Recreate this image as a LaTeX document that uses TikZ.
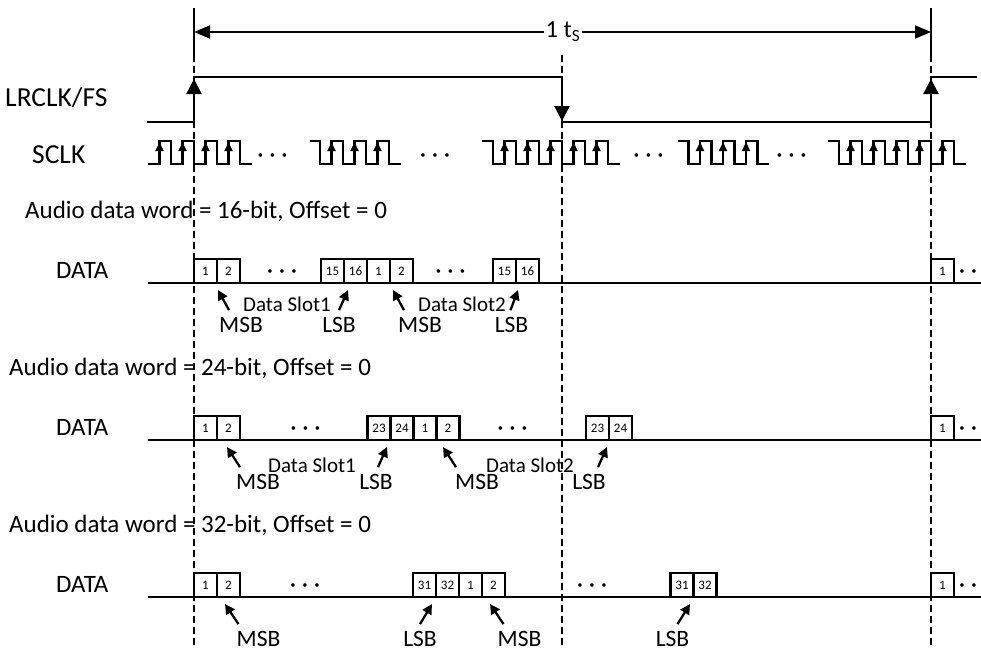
\documentclass[tikz,border=0pt]{standalone}
\usepackage{fontspec}
\setmainfont{Carlito}
\usetikzlibrary{arrows.meta}

\tikzset{
  lbl/.style={font=\fontsize{25}{30}\selectfont, inner sep=1pt},
  siglbl/.style={font=\fontsize{27.5}{32}\selectfont, inner sep=1pt, anchor=west},
  ptrlbl/.style={font=\fontsize{23.5}{28}\selectfont, inner sep=1pt},
  slotlbl/.style={font=\fontsize{21}{25}\selectfont, inner sep=1pt},
  dotsl/.style={font=\fontsize{25}{30}\selectfont, inner sep=0pt, text height=15pt, text depth=0pt},
  bitbox/.style={draw, line width=2.2pt, minimum width=23pt, minimum height=24pt, inner sep=0pt, outer sep=0pt, anchor=south west, font=\fontsize{13}{15}\selectfont},
  sig/.style={line width=2.2pt},
  wave/.style={line width=2.2pt, line join=miter},
  clkup/.style={line width=2pt, -{Triangle[width=8pt,length=9pt]}},
  edgeup/.style={line width=2.2pt, -{Triangle[width=15pt,length=15pt]}},
  guide/.style={line width=1.3pt, dash pattern=on 7pt off 4pt},
  dim/.style={line width=1.6pt, -{Triangle[width=13pt,length=16pt]}},
  ptr/.style={line width=2.3pt, -{Triangle[width=10pt,length=10pt]}},
  dline/.style={line width=1.7pt},
}

\begin{document}
\begin{tikzpicture}[x=1pt, y=-1pt]
  \useasboundingbox (0,0) rectangle (981,653);
  \fill[white] (0,0) rectangle (981,653);

  % frame guides
  \draw[line width=1.6pt] (194,8) -- (194,55);
  \draw[line width=1.6pt] (931,8) -- (931,55);
  \foreach \x in {194,562,931} \draw[guide] (\x,55) -- (\x,648);

  % one sample period
  \node[lbl, fill=white, inner sep=2pt, font=\fontsize{24.5}{28}\selectfont] (ts) at (563,32) {1 t\textsubscript{S}};
  \coordinate (tsL) at (194,32);
  \coordinate (tsR) at (931,32);
  \draw[dim] (ts) -- (tsL);
  \draw[dim] (ts) -- (tsR);

  % LRCLK
  \node[siglbl] (lrclk) at (4,98) {LRCLK/FS};
  \draw[sig] (147,122) -- (194,122) -- (194,77) -- (562,77) -- (562,122) -- (931,122) -- (931,77) -- (977,77);
  \draw[edgeup] (194,110) -- (194,79);
  \draw[edgeup] (562,90) -- (562,121);
  \draw[edgeup] (931,110) -- (931,79);

  % SCLK
  \node[siglbl] (sclk) at (31,155) {SCLK};
  \draw[wave] (148,164) foreach \r in {159.5,182.5,205.5,228.5} { -- (\r,164) -- (\r,141) -- ++(11.5,0) -- ++(0,23) } -- ++(11.5,0);
  \draw[wave] (309.5,141) -- (320,141) -- (320,164) foreach \r in {331.5,354.5,377.5} { -- (\r,164) -- (\r,141) -- ++(11.5,0) -- ++(0,23) } -- ++(11.5,0);
  \draw[wave] (482,141) -- (493,141) -- (493,164) foreach \r in {504.5,527.5,550.5,573.5,596.5} { -- (\r,164) -- (\r,141) -- ++(11.5,0) -- ++(0,23) } -- ++(11.5,0);
  \draw[wave] (678,141) -- (688.5,141) -- (688.5,164) foreach \r in {700,723,746} { -- (\r,164) -- (\r,141) -- ++(11.5,0) -- ++(0,23) } -- ++(11.5,0);
  \draw[wave] (828,141) -- (839,141) -- (839,164) foreach \r in {850.5,873.5,896.5,919.5,942.5} { -- (\r,164) -- (\r,141) -- ++(11.5,0) -- ++(0,23) } -- ++(11.5,0);
  \foreach \r in {159.5,182.5,205.5,228.5,331.5,354.5,377.5,504.5,527.5,550.5,573.5,596.5,700,723,746,850.5,873.5,896.5,919.5,942.5}
    \draw[clkup] (\r,160) -- (\r,142);
  \node[dotsl] (sd1) at (272.5,155) {· · ·};
  \node[dotsl] (sd2) at (435,155) {· · ·};
  \node[dotsl] (sd3) at (648.5,155) {· · ·};
  \node[dotsl] (sd4) at (791.5,155) {· · ·};

  % 16-bit word
  \node[lbl, anchor=west] (ttlA) at (24,211) {Audio data word = 16-bit, Offset = 0};
  \node[lbl, anchor=west] (dataA) at (55,270) {DATA};
  \draw[dline] (148,283) -- (981,283);
  \foreach \x/\b [count=\i] in {194/1,217/2,321/15,344/16,367/1,390/2,493/15,516/16,931/1}
    \node[bitbox] (ba\i) at (\x,283) {\b};
  \node[dotsl] (daA) at (282,271) {· · ·};
  \node[dotsl] (daB) at (450.5,271) {· · ·};
  \node[dotsl] (daC) at (968,271) {· ·};
  \node[slotlbl] (slotA1) at (287,304) {Data Slot1};
  \node[slotlbl] (slotA2) at (462,304) {Data Slot2};
  \node[ptrlbl] (msbA1) at (241,325) {MSB};
  \node[ptrlbl] (lsbA1) at (339,325) {LSB};
  \node[ptrlbl] (msbA2) at (420,325) {MSB};
  \node[ptrlbl] (lsbA2) at (511.5,325) {LSB};
  \coordinate (pA1) at (218,290);
  \coordinate (pA2) at (348,290);
  \coordinate (pA3) at (393,290);
  \coordinate (pA4) at (518,290);
  \draw[ptr] ([xshift=-12pt,yshift=6pt]msbA1.north) -- (pA1);
  \draw[ptr] ([xshift=0pt,yshift=6pt]lsbA1.north) -- (pA2);
  \draw[ptr] ([xshift=-16pt,yshift=6pt]msbA2.north) -- (pA3);
  \draw[ptr] ([xshift=-1pt,yshift=6pt]lsbA2.north) -- (pA4);

  % 24-bit word
  \node[lbl, anchor=west] (ttlB) at (8,368) {Audio data word = 24-bit, Offset = 0};
  \node[lbl, anchor=west] (dataB) at (55,427) {DATA};
  \draw[dline] (148,440) -- (981,440);
  \foreach \x/\b [count=\i] in {194/1,217/2,367.5/23,390.5/24,413.5/1,436.5/2,586/23,609/24,931/1}
    \node[bitbox] (bb\i) at (\x,440) {\b};
  \node[dotsl] (dbA) at (305.5,428) {· · ·};
  \node[dotsl] (dbB) at (512.5,428) {· · ·};
  \node[dotsl] (dbC) at (968,428) {· ·};
  \node[slotlbl] (slotB1) at (312,465) {Data Slot1};
  \node[slotlbl] (slotB2) at (530,465) {Data Slot2};
  \node[ptrlbl] (msbB1) at (258,482) {MSB};
  \node[ptrlbl] (lsbB1) at (376,482) {LSB};
  \node[ptrlbl] (msbB2) at (477,482) {MSB};
  \node[ptrlbl] (lsbB2) at (589,482) {LSB};
  \coordinate (pB1) at (227,447);
  \coordinate (pB2) at (387,447);
  \coordinate (pB3) at (443,447);
  \coordinate (pB4) at (607,447);
  \draw[ptr] ([xshift=-18pt,yshift=6pt]msbB1.north) -- (pB1);
  \draw[ptr] ([xshift=2pt,yshift=6pt]lsbB1.north) -- (pB2);
  \draw[ptr] ([xshift=-21pt,yshift=6pt]msbB2.north) -- (pB3);
  \draw[ptr] ([xshift=9pt,yshift=6pt]lsbB2.north) -- (pB4);

  % 32-bit word
  \node[lbl, anchor=west] (ttlC) at (8,525) {Audio data word = 32-bit, Offset = 0};
  \node[lbl, anchor=west] (dataC) at (55,584) {DATA};
  \draw[dline] (148,597) -- (981,597);
  \foreach \x/\b [count=\i] in {194/1,217/2,413/31,436/32,459/1,482/2,670.5/31,693.5/32,931/1}
    \node[bitbox] (bc\i) at (\x,597) {\b};
  \node[dotsl] (dcA) at (305,585) {· · ·};
  \node[dotsl] (dcB) at (592,585) {· · ·};
  \node[dotsl] (dcC) at (968,585) {· ·};
  \node[ptrlbl] (msbC1) at (258.5,639) {MSB};
  \node[ptrlbl] (lsbC1) at (420,639) {LSB};
  \node[ptrlbl] (msbC2) at (519.5,639) {MSB};
  \node[ptrlbl] (lsbC2) at (672.5,639) {LSB};
  \coordinate (pC1) at (225,604);
  \coordinate (pC2) at (432,604);
  \coordinate (pC3) at (490,604);
  \coordinate (pC4) at (690,604);
  \draw[ptr] ([xshift=-20pt,yshift=6pt]msbC1.north) -- (pC1);
  \draw[ptr] ([xshift=0pt,yshift=6pt]lsbC1.north) -- (pC2);
  \draw[ptr] ([xshift=-16pt,yshift=6pt]msbC2.north) -- (pC3);
  \draw[ptr] ([xshift=5pt,yshift=6pt]lsbC2.north) -- (pC4);
\end{tikzpicture}
\end{document}
